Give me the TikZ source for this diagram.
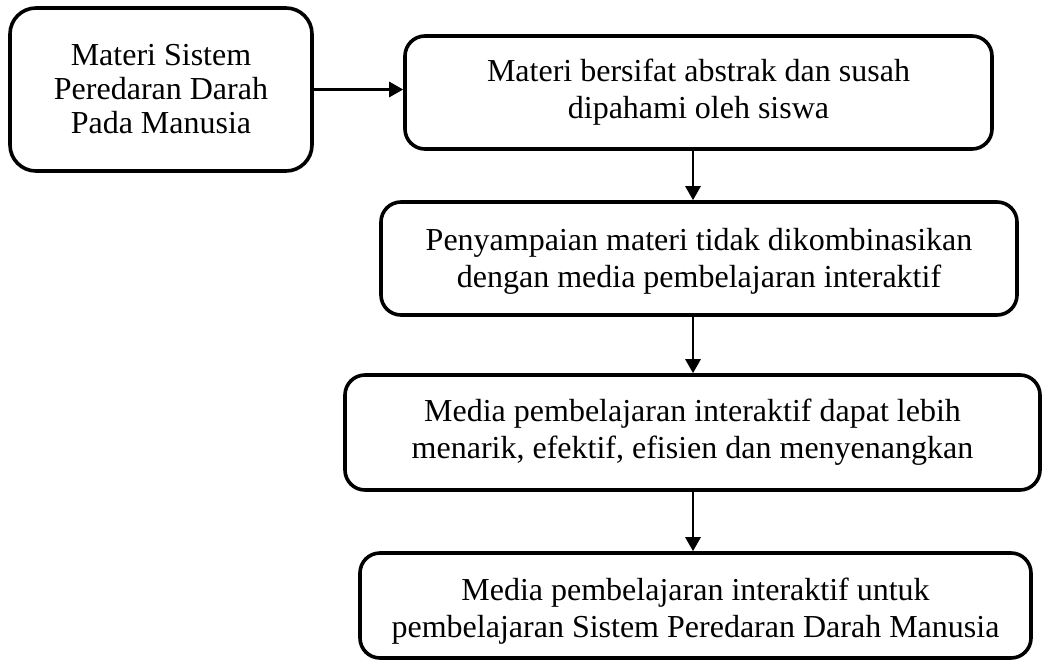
\documentclass[tikz,border=0pt]{standalone}
\usepackage{fontspec}
\setmainfont{Liberation Serif}
\usetikzlibrary{arrows.meta}
\begin{document}
\begin{tikzpicture}[x=1pt,y=-1pt,
  flowbox/.style={draw=black, line width=3.6pt, rounded corners=20pt, align=center,
    inner sep=0pt, font=\fontsize{32}{37}\selectfont, text=black},
  arr/.style={line width=2.8pt, -{Triangle[width=15pt,length=14pt]}}]
\useasboundingbox (0,0) rectangle (1043,661);
\node[flowbox, rounded corners=26pt, minimum width=302pt, minimum height=163pt,
  font=\fontsize{32}{34}\selectfont] (A) at (161,89.5)
  {Materi Sistem\\Peredaran Darah\\Pada Manusia};
\node[flowbox, minimum width=587pt, minimum height=113pt] (B) at (698.5,92.5)
  {Materi bersifat abstrak dan susah\\dipahami oleh siswa};
\node[flowbox, minimum width=636pt, minimum height=113pt] (C) at (699,258.5)
  {\rule{0pt}{28pt}Penyampaian materi tidak dikombinasikan\\dengan media pembelajaran interaktif};
\node[flowbox, minimum width=695pt, minimum height=115pt] (D) at (692.5,432.5)
  {Media pembelajaran interaktif dapat lebih\\menarik, efektif, efisien dan menyenangkan};
\node[flowbox, minimum width=671pt, minimum height=105pt] (E) at (695.5,605.5)
  {\rule{0pt}{34pt}Media pembelajaran interaktif untuk\\pembelajaran Sistem Peredaran Darah Manusia};
\coordinate (X) at (693,0);
\draw[arr] (A.east) -- (A.east -| B.west);
\draw[arr] (B.south -| X) -- (C.north -| X);
\draw[arr] (C.south -| X) -- (D.north -| X);
\draw[arr] (D.south -| X) -- (E.north -| X);
\end{tikzpicture}
\end{document}
